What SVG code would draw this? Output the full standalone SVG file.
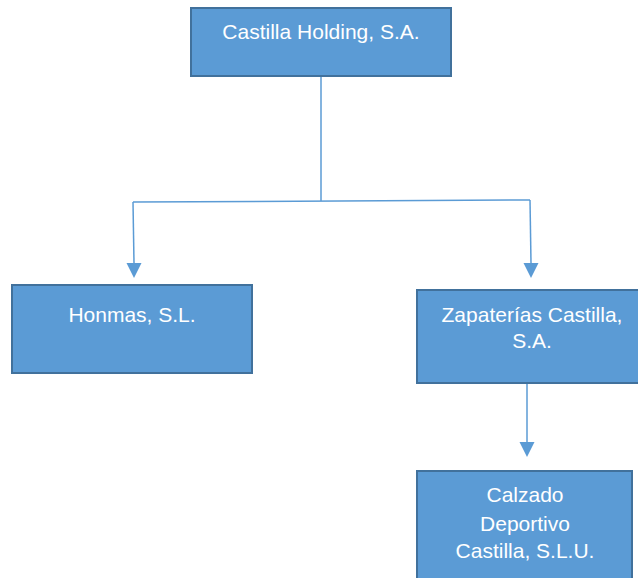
<svg xmlns="http://www.w3.org/2000/svg" width="638" height="578" viewBox="0 0 638 578">
<style>
.box{fill:#5B9BD5;stroke:#41719C;stroke-width:2}
.t{font-family:"Liberation Sans",Arial,sans-serif;font-size:21px;fill:#FFFFFF;text-anchor:middle}
.c{fill:none;stroke:#5B9BD5;stroke-width:1.5}
</style>
<defs>
<marker id="arr" markerWidth="15" markerHeight="15" refX="7.5" refY="15" orient="auto-start-reverse" markerUnits="userSpaceOnUse" viewBox="0 0 15 15">
<path d="M0,0 L15,0 L7.5,15 Z" fill="#5B9BD5"/>
</marker>
</defs>
<rect width="638" height="578" fill="#FFFFFF"/>
<g id="connectors">
<path class="c" d="M321,77 L321,201"/>
<path class="c" d="M133,202 L530,200"/>
<path class="c" d="M133,202 L134,263"/>
<polygon points="126.5,263 141.5,263 134,278" fill="#5B9BD5"/>
<path class="c" d="M530,200 L531,263"/>
<polygon points="523.5,263 538.5,263 531,278" fill="#5B9BD5"/>
<path class="c" d="M527,384 L527,442"/>
<polygon points="519.5,442 534.5,442 527,457" fill="#5B9BD5"/>
</g>
<g id="castilla-holding">
<rect class="box" x="191" y="8" width="260" height="68"/>
<text class="t" x="321" y="39">Castilla Holding, S.A.</text>
</g>
<g id="honmas">
<rect class="box" x="12" y="285" width="240" height="88"/>
<text class="t" x="132" y="322">Honmas, S.L.</text>
</g>
<g id="zapaterias">
<rect class="box" x="417" y="290" width="226" height="93"/>
<text class="t" x="532" y="322">Zapaterías Castilla,</text>
<text class="t" x="532" y="348">S.A.</text>
</g>
<g id="calzado">
<rect class="box" x="417" y="471" width="215" height="112"/>
<text class="t" x="525" y="502">Calzado</text>
<text class="t" x="525" y="531">Deportivo</text>
<text class="t" x="525" y="558">Castilla, S.L.U.</text>
</g>
</svg>
